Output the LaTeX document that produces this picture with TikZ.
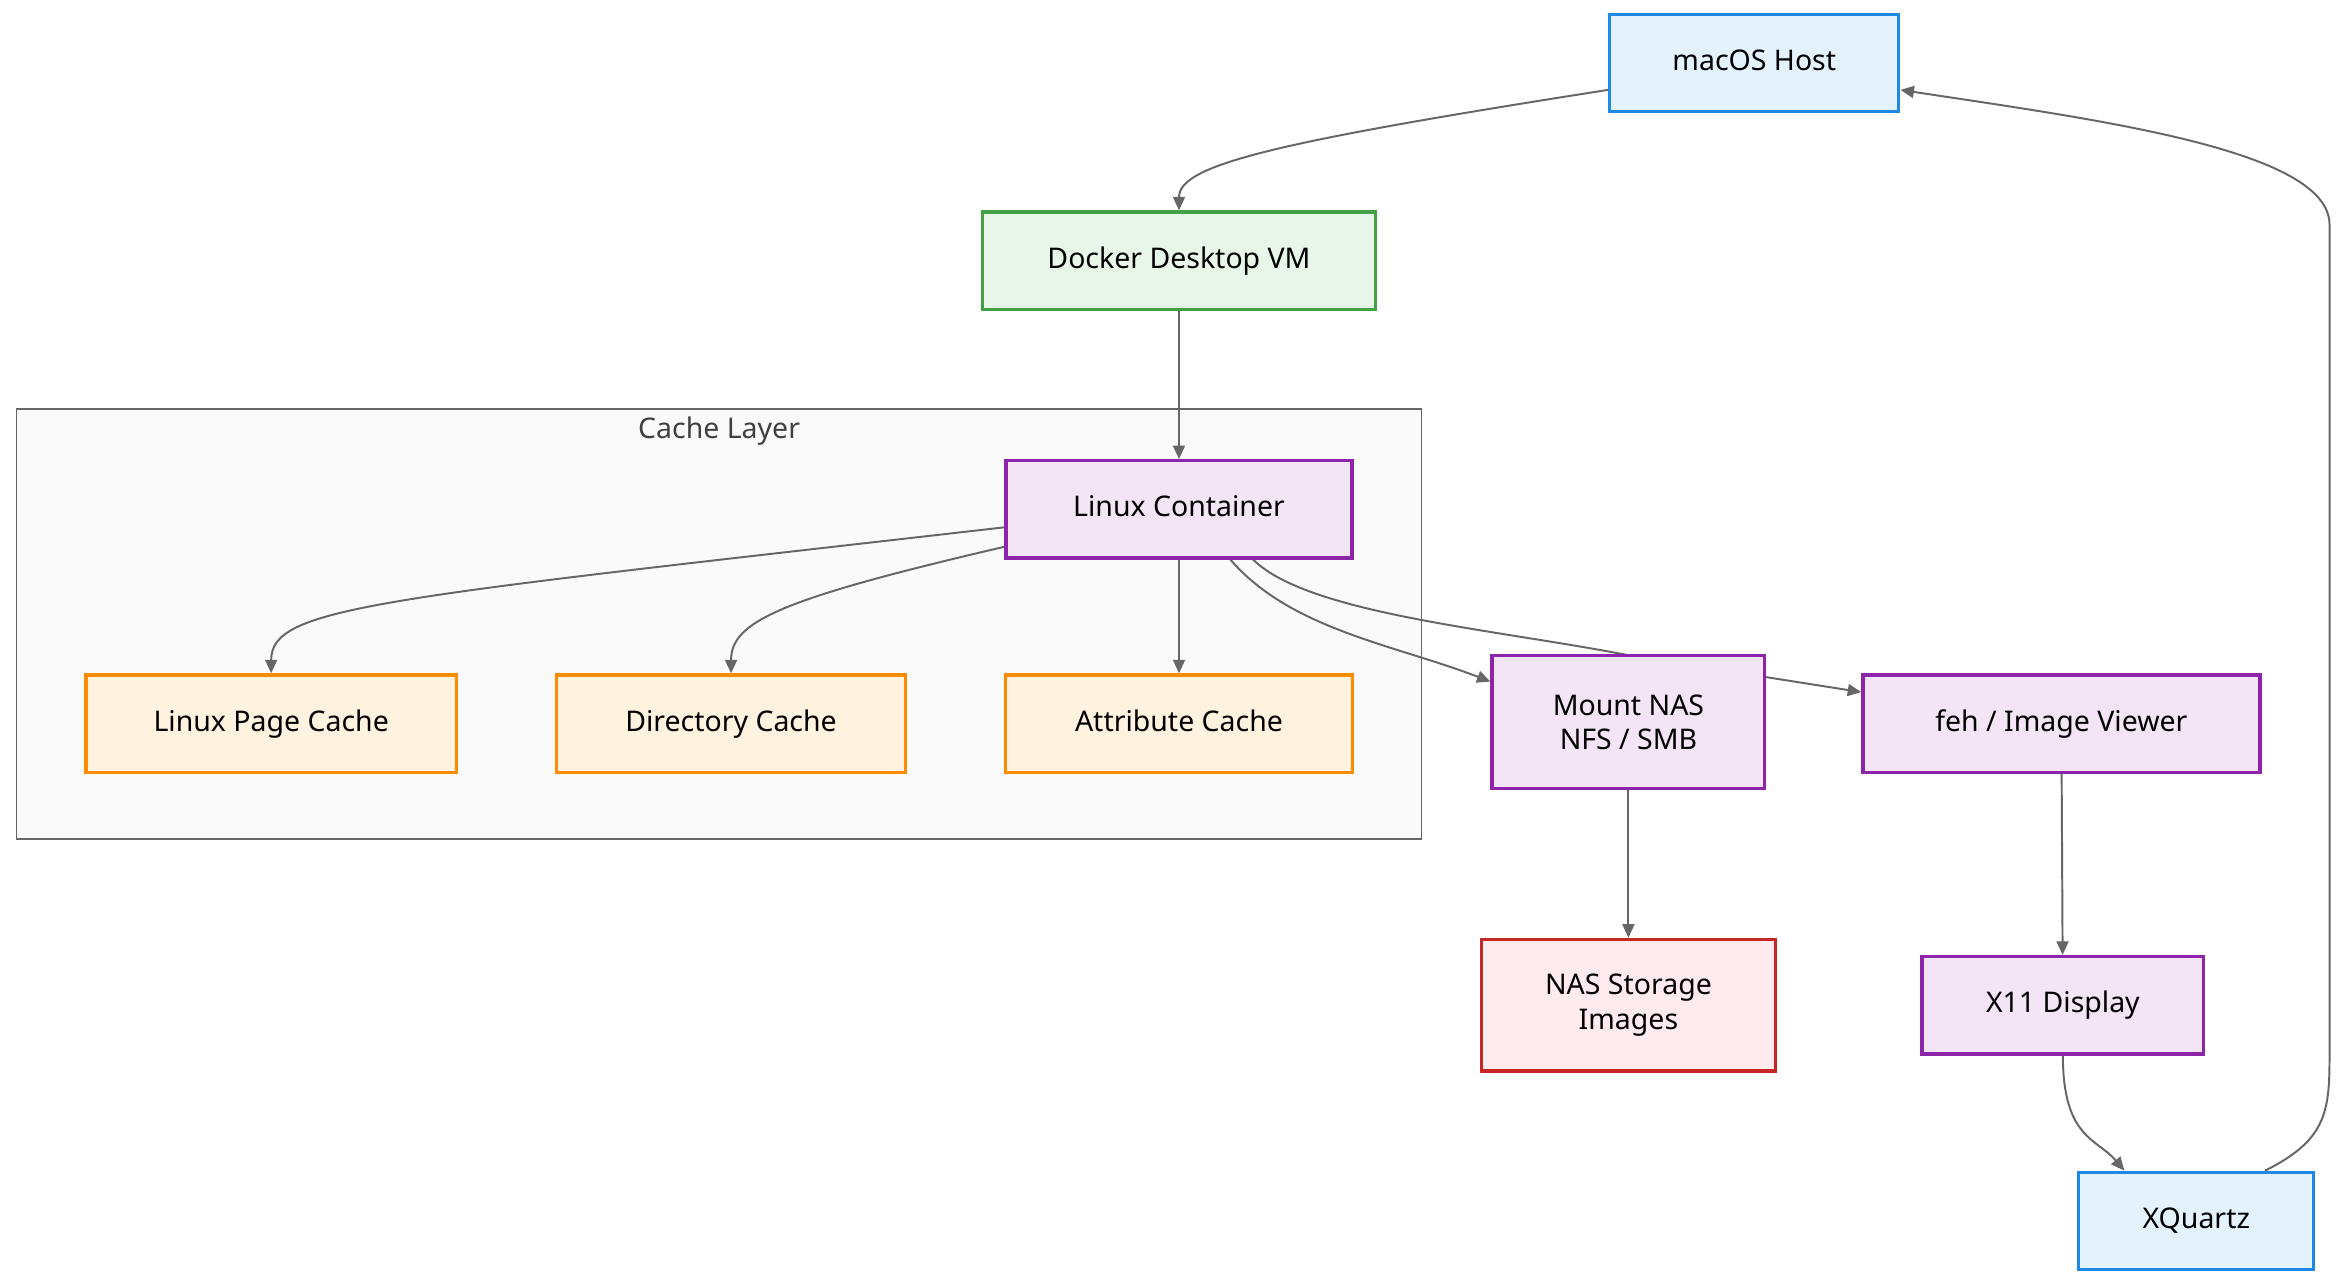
\documentclass[tikz,border=0pt]{standalone}
\usepackage{fontspec}
\setmainfont{Noto Sans}
\usetikzlibrary{arrows.meta,backgrounds}
\pgfdeclarelayer{edgelayer}
\pgfsetlayers{background,edgelayer,main}
\definecolor{bfill}{HTML}{E3F2FD}\definecolor{bdraw}{HTML}{1E88E5}
\definecolor{gfill}{HTML}{E8F5E9}\definecolor{gdraw}{HTML}{43A047}
\definecolor{pfill}{HTML}{F3E5F5}\definecolor{pdraw}{HTML}{8E24AA}
\definecolor{ofill}{HTML}{FFF3E0}\definecolor{odraw}{HTML}{FB8C00}
\definecolor{rfill}{HTML}{FFEBEE}\definecolor{rdraw}{HTML}{C62828}
\definecolor{edge}{HTML}{666666}
\tikzset{
 box/.style={draw,line width=2.2pt,minimum height=65pt,font=\fontsize{19}{23}\selectfont,align=center,inner sep=0pt,text height=14pt,text depth=4pt},
 hostbox/.style={box,fill=bfill,draw=bdraw},
 vmbox/.style={box,fill=gfill,draw=gdraw},
 procbox/.style={box,fill=pfill,draw=pdraw},
 cachebox/.style={box,fill=ofill,draw=odraw},
 storebox/.style={box,fill=rfill,draw=rdraw},
 conn/.style={draw=edge,line width=1.3pt,-{Triangle[length=9pt,width=8pt]}}
}
\begin{document}
\begin{tikzpicture}[x=1pt,y=-1pt]
\begin{pgfonlayer}{background}
\fill[white] (0,0) rectangle (1568,858);
\end{pgfonlayer}
\useasboundingbox (0,0) rectangle (1568,858);
\begin{pgfonlayer}{background}
\node[draw=gray!80!black,fill=black!2,line width=1pt,minimum width=938pt,minimum height=287pt,inner sep=0pt] (cl) at (480,416.5) {};
\end{pgfonlayer}
\node[font=\fontsize{19}{23}\selectfont,text=black!75] (cllab) at (480,288) {Cache Layer};
\node[hostbox,minimum width=193pt] (mac) at (1171,42) {macOS Host};
\node[vmbox,minimum width=262pt] (vm) at (787,174) {Docker Desktop VM};
\node[procbox,minimum width=231pt] (lc) at (787,340) {Linux Container};
\node[cachebox,minimum width=247pt] (pc) at (181,483) {Linux Page Cache};
\node[cachebox,minimum width=233pt] (dc) at (488,483) {Directory Cache};
\node[cachebox,minimum width=232pt] (ac) at (787,483) {Attribute Cache};
\node[procbox,minimum width=182pt,minimum height=89pt,text height=,text depth=] (mn) at (1087,482) {Mount NAS\\NFS / SMB};
\node[procbox,minimum width=265pt] (feh) at (1376,483) {feh / Image Viewer};
\node[storebox,minimum width=196pt,minimum height=88pt,text height=,text depth=] (ns) at (1087,671) {NAS Storage\\Images};
\node[procbox,minimum width=188pt] (x11) at (1377,671) {X11 Display};
\node[hostbox,minimum width=157pt] (xq) at (1466,815) {XQuartz};
\begin{pgfonlayer}{edgelayer}
\draw[conn] (mac.west|-0,60) .. controls (850,95) and (787,110) .. (vm.north);
\draw[conn] (vm) -- (lc);
\draw[conn] (lc.west|-0,352) .. controls (250,400) and (181,405) .. (pc.north);
\draw[conn] (lc.west|-0,365) .. controls (520,400) and (488,415) .. (dc.north);
\draw[conn] (lc) -- (ac);
\draw[conn] (820,372) .. controls (860,420) and (930,430) .. (mn.west|-0,455);
\draw[conn] (835,372) .. controls (870,410) and (1000,420) .. (1090,438) -- (feh.west|-0,462);
\draw[conn] (mn) -- (ns);
\draw[conn] (feh) -- (x11);
\draw[conn] (x11.south) .. controls (1377,760) and (1400,760) .. (xq.north-|1418,0);
\draw[conn] (xq.north-|1512,0) .. controls (1555,760) and (1555,740) .. (1555,700) -- (1555,150) .. controls (1555,100) and (1400,80) .. (mac.east|-0,60);
\end{pgfonlayer}
\end{tikzpicture}
\end{document}
